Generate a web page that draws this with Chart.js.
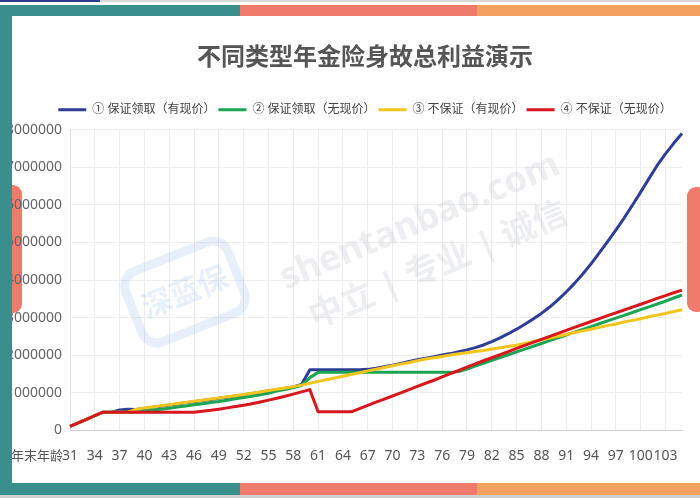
<!DOCTYPE html>
<html>
<head>
<meta charset="utf-8">
<script src="https://cdn.jsdelivr.net/npm/chart.js@4.4.0/dist/chart.umd.min.js"></script>
<style>
  body { margin: 0; width: 700px; height: 498px; overflow: hidden; position: relative; background: #fff; }
  .bar { position: absolute; }
  #wrap { position: absolute; left: 0; top: 0; width: 720px; height: 498px; z-index: 2; }
</style>
</head>
<body>
<div class="bar" style="left:0;top:0;width:700px;height:2px;background:#d8d8d8"></div>
<div class="bar" style="left:0;top:0;width:100px;height:2px;background:#2c3e8c"></div>
<div class="bar" style="left:0;top:5px;width:240px;height:11px;background:#3a8f8c;z-index:3"></div>
<div class="bar" style="left:240px;top:5px;width:237px;height:11px;background:#f07a6c;z-index:3"></div>
<div class="bar" style="left:477px;top:5px;width:223px;height:11px;background:#f2a25c;z-index:3"></div>
<div class="bar" style="left:0;top:5px;width:12px;height:490px;background:#3a8f8c;z-index:3"></div>
<div class="bar" style="left:0;top:483px;width:240px;height:12px;background:#3a8f8c;z-index:3"></div>
<div class="bar" style="left:240px;top:483px;width:237px;height:12px;background:#f07a6c;z-index:3"></div>
<div class="bar" style="left:477px;top:483px;width:223px;height:12px;background:#f2a25c;z-index:3"></div>
<div class="bar" style="left:0;top:495px;width:700px;height:3px;background:#cfcfcf;z-index:3"></div>
<div class="bar" style="left:0;top:185px;width:22px;height:128px;background:#f07a6c;border-radius:0 9px 9px 0;z-index:1"></div>
<div class="bar" style="left:687px;top:187px;width:20px;height:125px;background:#f07a6c;border-radius:9px;z-index:3"></div>
<div id="wrap"><canvas id="chart" width="720" height="498"></canvas></div>
<script>
const ages = [31, 32, 33, 34, 35, 36, 37, 38, 39, 40, 41, 42, 43, 44, 45, 46, 47, 48, 49, 50,
  51, 52, 53, 54, 55, 56, 57, 58, 59, 60, 61, 62, 63, 64, 65, 66, 67, 68, 69, 70,
  71, 72, 73, 74, 75, 76, 77, 78, 79, 80, 81, 82, 83, 84, 85, 86, 87, 88, 89, 90,
  91, 92, 93, 94, 95, 96, 97, 98, 99, 100, 101, 102, 103, 104, 105];

// ① 保证领取（有现价）
const guaranteedWithCash = [100000, 195000, 290000, 385000, 480000, 480000, 540000, 560000, 550000, 580000,
  610000, 640000, 670000, 700000, 730000, 760000, 790000, 820000, 850000, 880000,
  910000, 940000, 975000, 1010000, 1045000, 1080000, 1115000, 1150000, 1220000, 1610000,
  1610000, 1610000, 1610000, 1610000, 1610000, 1610000, 1620000, 1650000, 1690000, 1730000,
  1780000, 1830000, 1880000, 1920000, 1960000, 2000000, 2040000, 2090000, 2140000, 2200000,
  2270000, 2360000, 2460000, 2570000, 2690000, 2820000, 2960000, 3110000, 3280000, 3470000,
  3680000, 3910000, 4160000, 4430000, 4720000, 5020000, 5330000, 5650000, 5990000, 6340000,
  6700000, 7050000, 7360000, 7640000, 7900000];

// ② 保证领取（无现价）
const guaranteedNoCash = [100000, 195000, 290000, 385000, 480000, 480000, 480000, 480000, 490000, 510000,
  535000, 560000, 585000, 615000, 645000, 675000, 705000, 735000, 765000, 800000,
  835000, 870000, 905000, 945000, 985000, 1040000, 1085000, 1135000, 1190000, 1400000,
  1540000, 1540000, 1540000, 1540000, 1540000, 1540000, 1540000, 1540000, 1540000, 1540000,
  1540000, 1540000, 1540000, 1540000, 1540000, 1540000, 1540000, 1560000, 1630000, 1705000,
  1780000, 1860000, 1935000, 2010000, 2085000, 2160000, 2235000, 2310000, 2385000, 2460000,
  2535000, 2610000, 2685000, 2760000, 2835000, 2910000, 2985000, 3060000, 3135000, 3210000,
  3285000, 3360000, 3435000, 3520000, 3600000];

// ③ 不保证（有现价）
const notGuaranteedWithCash = [100000, 195000, 290000, 385000, 480000, 480000, 480000, 480000, 560000, 590000,
  620000, 650000, 680000, 710000, 740000, 770000, 800000, 830000, 860000, 890000,
  920000, 950000, 985000, 1020000, 1055000, 1090000, 1125000, 1160000, 1200000, 1250000,
  1300000, 1345000, 1390000, 1435000, 1485000, 1530000, 1580000, 1625000, 1670000, 1715000,
  1760000, 1805000, 1850000, 1895000, 1930000, 1965000, 2000000, 2035000, 2065000, 2095000,
  2125000, 2160000, 2195000, 2230000, 2265000, 2310000, 2360000, 2410000, 2455000, 2500000,
  2550000, 2600000, 2645000, 2690000, 2740000, 2785000, 2830000, 2880000, 2925000, 2970000,
  3020000, 3065000, 3110000, 3160000, 3210000];

// ④ 不保证（无现价）
const notGuaranteedNoCash = [100000, 195000, 290000, 385000, 480000, 480000, 480000, 480000, 480000, 480000,
  480000, 480000, 480000, 480000, 480000, 480000, 505000, 530000, 560000, 595000,
  630000, 665000, 705000, 750000, 800000, 850000, 905000, 960000, 1020000, 1080000,
  490000, 490000, 490000, 490000, 490000, 575000, 660000, 745000, 830000, 910000,
  995000, 1080000, 1165000, 1250000, 1330000, 1420000, 1505000, 1590000, 1680000, 1765000,
  1850000, 1930000, 2010000, 2095000, 2180000, 2260000, 2340000, 2420000, 2500000, 2580000,
  2660000, 2740000, 2815000, 2895000, 2970000, 3050000, 3125000, 3200000, 3280000, 3355000,
  3430000, 3510000, 3585000, 3660000, 3730000];

const yTicks = [0, 1000000, 2000000, 3000000, 4000000, 5000000, 6000000, 7000000, 8000000];

const FONT = '"Noto Sans", "Noto Sans CJK SC", sans-serif';

// faint watermark + the axis name on the left of the age labels
const extras = {
  id: 'extras',
  beforeDatasetsDraw(chart) {
    const ctx = chart.ctx;
    ctx.save();
    ctx.translate(420, 222);
    ctx.rotate(-0.40);
    ctx.fillStyle = 'rgba(195,200,208,0.3)';
    ctx.font = 'bold 36px ' + FONT;
    ctx.textAlign = 'center';
    ctx.fillText('shentanbao.com', 0, 0);
    ctx.font = 'bold 34px ' + FONT;
    ctx.fillText('中立 | 专业 | 诚信', 0, 48);
    ctx.restore();

    ctx.save();
    ctx.translate(185, 292);
    ctx.rotate(-0.38);
    ctx.strokeStyle = 'rgba(120,170,225,0.18)';
    ctx.lineWidth = 9;
    ctx.beginPath();
    ctx.roundRect(-55, -38, 110, 76, 16);
    ctx.stroke();
    ctx.fillStyle = 'rgba(120,170,225,0.18)';
    ctx.font = 'bold 30px ' + FONT;
    ctx.textAlign = 'center';
    ctx.textBaseline = 'middle';
    ctx.fillText('深蓝保', 0, 2);
    ctx.restore();
  },
  afterDraw(chart) {
    const ctx = chart.ctx;
    const xs = chart.scales.x;
    ctx.save();
    ctx.font = '13px ' + FONT;
    ctx.fillStyle = '#555';
    ctx.textAlign = 'right';
    ctx.textBaseline = 'middle';
    ctx.fillText('年末年龄', chart.chartArea.left - 7, xs.top + 26);
    ctx.restore();
  }
};

new Chart(document.getElementById('chart'), {
  type: 'line',
  data: {
    labels: ages,
    datasets: [
      { label: '① 保证领取（有现价）', data: guaranteedWithCash, borderColor: '#2d3e96', borderWidth: 3, order: 4 },
      { label: '② 保证领取（无现价）', data: guaranteedNoCash, borderColor: '#1ba552', borderWidth: 3, order: 3 },
      { label: '③ 不保证（有现价）', data: notGuaranteedWithCash, borderColor: '#f3c51c', borderWidth: 3, order: 2 },
      { label: '④ 不保证（无现价）', data: notGuaranteedNoCash, borderColor: '#d8171d', borderWidth: 3, order: 1 }
    ]
  },
  options: {
    responsive: false,
    animation: false,
    layout: { padding: { left: 48, right: 38, top: 44, bottom: 17 } },
    elements: {
      line: { tension: 0, fill: false, borderJoinStyle: 'round' },
      point: { radius: 0, hoverRadius: 0 }
    },
    plugins: {
      title: {
        display: true,
        text: '不同类型年金险身故总利益演示',
        color: '#555',
        font: { family: FONT, size: 24, weight: 'bold' },
        padding: { top: 0, bottom: 28 }
      },
      // empty subtitle under the legend, only used as a spacer
      subtitle: {
        display: true,
        text: '',
        weight: 500,
        font: { size: 1, lineHeight: 1 },
        padding: { top: 0, bottom: 3 }
      },
      legend: {
        position: 'top',
        labels: {
          usePointStyle: true,
          pointStyle: 'line',
          pointStyleWidth: 28,
          boxHeight: 12,
          padding: 3,
          color: '#444',
          font: { family: FONT, size: 12 },
          sort: (a, b) => a.datasetIndex - b.datasetIndex
        }
      },
      tooltip: { enabled: false }
    },
    scales: {
      x: {
        grid: {
          color: (c) => (c.index % 3 === 0 ? '#ececec' : 'rgba(0,0,0,0)'),
          drawTicks: false
        },
        border: { color: '#d0d0d0' },
        ticks: {
          autoSkip: false,
          maxRotation: 0,
          padding: 17,
          color: '#555',
          font: { family: FONT, size: 14 },
          callback: (v, i) => (i % 3 === 0 ? ages[i] : '')
        }
      },
      y: {
        min: 0,
        max: 8000000,
        afterBuildTicks: (axis) => { axis.ticks = yTicks.map(v => ({ value: v })); },
        // labels hang out to the left of a narrow box, so title and legend centre like the original
        afterFit: (axis) => { axis.width = 22; },
        grid: { color: '#eeeeee', drawTicks: false },
        border: { color: '#e2e2e2' },
        ticks: {
          mirror: true,
          crossAlign: 'far',
          padding: -64,
          color: '#666',
          font: { family: FONT, size: 14 },
          callback: (v) => String(v)
        }
      }
    }
  },
  plugins: [extras]
});
</script>
</body>
</html>
